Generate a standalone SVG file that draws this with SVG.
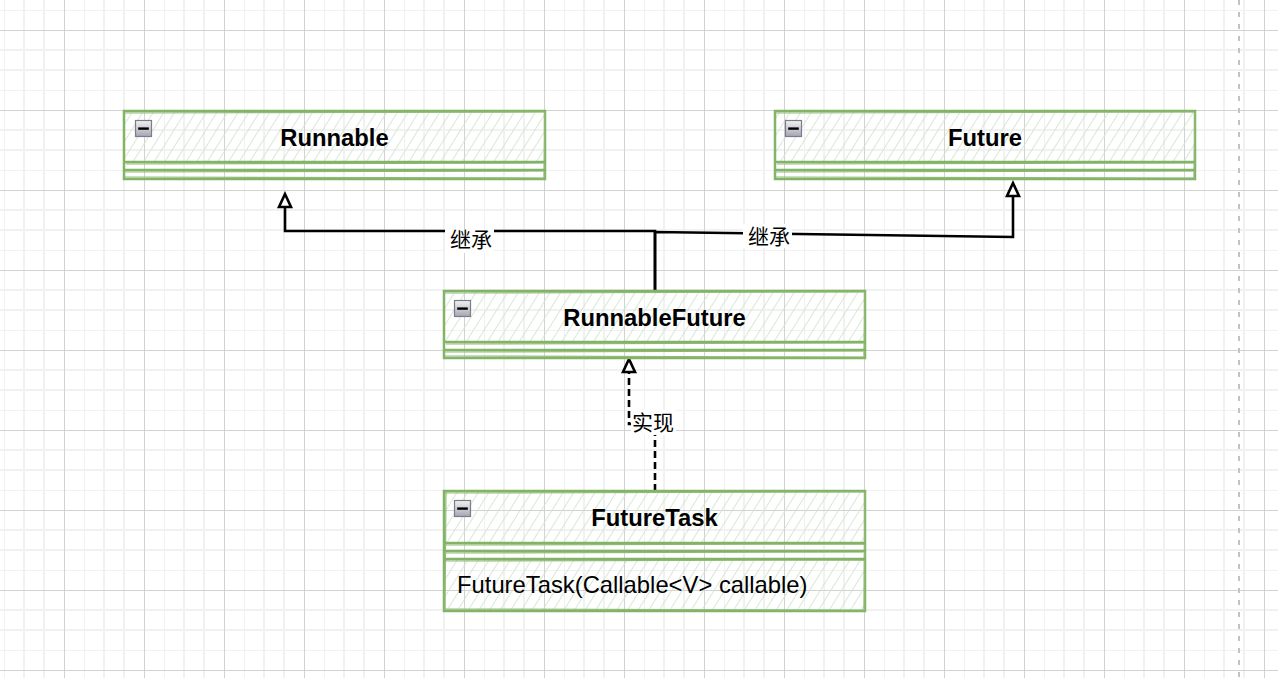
<svg xmlns="http://www.w3.org/2000/svg" width="1278" height="678" viewBox="0 0 1278 678">
<defs>
  <pattern id="grid" x="4" y="10" width="80" height="80" patternUnits="userSpaceOnUse">
    <g stroke="#f1f1f1" stroke-width="2">
      <line x1="0" y1="0" x2="0" y2="80"/><line x1="20" y1="0" x2="20" y2="80"/><line x1="40" y1="0" x2="40" y2="80"/>
      <line x1="0" y1="0" x2="80" y2="0"/><line x1="0" y1="40" x2="80" y2="40"/><line x1="0" y1="60" x2="80" y2="60"/>
    </g>
    <g stroke="#d2d2d2" stroke-width="1">
      <line x1="60.5" y1="0" x2="60.5" y2="80"/>
      <line x1="0" y1="20.5" x2="80" y2="20.5"/>
    </g>
  </pattern>
  <pattern id="hatch" width="9" height="9" patternUnits="userSpaceOnUse" patternTransform="rotate(32)">
    <line x1="0" y1="0" x2="0" y2="9" stroke="#d0e5cc" stroke-width="1.7"/>
  </pattern>
  <linearGradient id="ico" x1="0" y1="0" x2="0" y2="1">
    <stop offset="0" stop-color="#f2f2f4"/>
    <stop offset="1" stop-color="#a6a6b2"/>
  </linearGradient>
  <g id="minus">
    <rect x="0.5" y="0.5" width="16" height="16" fill="url(#ico)" stroke="#7c7c8c" stroke-width="1.2"/>
    <rect x="3.2" y="7.4" width="10.6" height="2.4" fill="#000"/>
  </g>
</defs>
<style>
  .box { fill: none; stroke: #82b366; stroke-width: 2.5; }
  .box2 { fill: none; stroke: #8fbd75; stroke-width: 1.2; }
  .hatch { fill: url(#hatch); stroke: none; }
  .sep { stroke: #82b366; stroke-width: 2.5; fill: none; }
  .title { font-family: "Liberation Sans", Arial, sans-serif; font-weight: bold; font-size: 23.8px; fill: #000; text-anchor: middle; }
  .method { font-family: "Liberation Sans", Arial, sans-serif; font-size: 23.8px; fill: #000; }
  .edge { fill: none; stroke: #000; stroke-width: 2.6; stroke-linejoin: miter; }
  .dash { stroke-dasharray: 7 4; }
  .lbl { font-family: "Noto Sans CJK SC", "Liberation Sans", sans-serif; font-size: 21px; fill: #000; text-anchor: middle; }
  .lblbg { fill: #fff; }
  .arrow { fill: #fff; stroke: #000; stroke-width: 2.6; stroke-linejoin: miter; }
</style>
<rect width="1278" height="678" fill="#fff"/>
<rect width="1278" height="678" fill="url(#grid)"/>
<line x1="1239" y1="0" x2="1239" y2="678" stroke="#c2c2c2" stroke-width="2" stroke-dasharray="5 7"/>

<g id="connectors">
  <g id="edge-runnablefuture-runnable">
    <path class="edge" d="M655 291 L655 231 L285 231 L285 206"/>
    <polygon class="arrow" points="285,194 279,207 291,207"/>
    <rect class="lblbg" x="445" y="229" width="49" height="24"/>
    <text class="lbl" x="471" y="247">继承</text>
  </g>
  <g id="edge-runnablefuture-future">
    <path class="edge" d="M655 291 L655 232 L1013 237 L1013 196"/>
    <polygon class="arrow" points="1013,183 1007,196 1019,196"/>
    <rect class="lblbg" x="743" y="224" width="49" height="24"/>
    <text class="lbl" x="769" y="244">继承</text>
  </g>
  <g id="edge-futuretask-runnablefuture">
    <path class="edge dash" d="M655 491 L655 424 L629 424 L629 372"/>
    <polygon class="arrow" points="629,359 623,372 635,372"/>
    <rect class="lblbg" x="631" y="410" width="45" height="25"/>
    <text class="lbl" x="653" y="430">实现</text>
  </g>
</g>

<g id="node-runnable">
  <rect class="hatch" x="124" y="111" width="421" height="52"/>
  <rect class="box" x="124" y="111" width="421" height="68"/>
  <path class="box2" d="M125 113 L544 112 M126 164 L545 163 M124 172 L543 171 M125 177 L545 178 M545 112 L544 178"/>
  <line class="sep" x1="124" y1="162" x2="545" y2="162"/>
  <line class="sep" x1="124" y1="170" x2="545" y2="170"/>
  <use href="#minus" x="135" y="120"/>
  <text class="title" x="334.5" y="146">Runnable</text>
</g>

<g id="node-future">
  <rect class="hatch" x="775" y="111" width="420" height="52"/>
  <rect class="box" x="775" y="111" width="420" height="68"/>
  <path class="box2" d="M776 113 L1194 112 M777 164 L1195 163 M775 172 L1193 171 M776 177 L1195 178 M1195 112 L1194 178"/>
  <line class="sep" x1="775" y1="162" x2="1195" y2="162"/>
  <line class="sep" x1="775" y1="170" x2="1195" y2="170"/>
  <use href="#minus" x="785" y="120"/>
  <text class="title" x="985" y="146">Future</text>
</g>

<g id="node-runnablefuture">
  <rect class="hatch" x="444" y="291" width="421" height="52"/>
  <rect class="box" x="444" y="291" width="421" height="67"/>
  <path class="box2" d="M445 293 L864 292 M446 344 L865 343 M444 352 L863 351 M445 356 L865 357 M865 292 L864 358"/>
  <line class="sep" x1="444" y1="342" x2="865" y2="342"/>
  <line class="sep" x1="444" y1="350" x2="865" y2="350"/>
  <use href="#minus" x="454" y="300"/>
  <text class="title" x="654.5" y="326">RunnableFuture</text>
</g>

<g id="node-futuretask">
  <rect class="hatch" x="444" y="491" width="421" height="52"/>
  <rect class="hatch" x="444" y="559" width="421" height="52"/>
  <rect class="box" x="444" y="491" width="421" height="120"/>
  <path class="box2" d="M445 493 L864 492 M446 545 L865 544 M444 553 L863 552 M445 561 L865 560 M445 609 L865 610 M865 492 L864 611 M446 492 L445 610"/>
  <line class="sep" x1="444" y1="543" x2="865" y2="543"/>
  <line class="sep" x1="444" y1="551" x2="865" y2="551"/>
  <line class="sep" x1="444" y1="559" x2="865" y2="559"/>
  <use href="#minus" x="454" y="500"/>
  <text class="title" x="654.5" y="526">FutureTask</text>
  <text class="method" x="457" y="593">FutureTask(Callable&lt;V&gt; callable)</text>
</g>
</svg>
